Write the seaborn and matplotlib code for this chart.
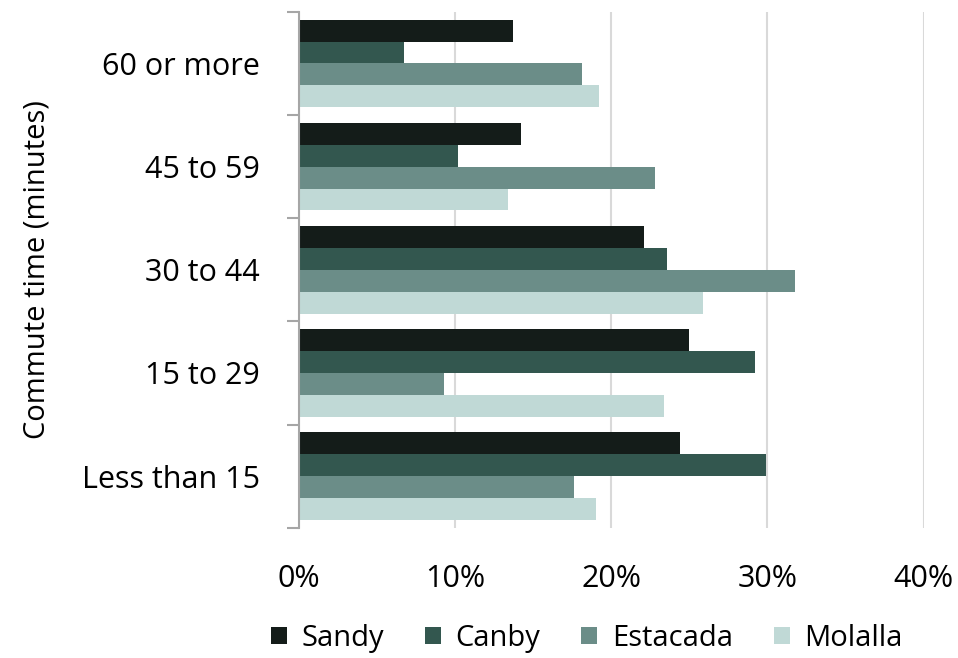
import pandas as pd
import seaborn as sns
import matplotlib.pyplot as plt
from matplotlib.ticker import PercentFormatter, FixedLocator

# Commute time share by city
categories = ['60 or more', '45 to 59', '30 to 44', '15 to 29', 'Less than 15']
cities = ['Sandy', 'Canby', 'Estacada', 'Molalla']
sandy = [13.7, 14.2, 22.1, 25.0, 24.4]
canby = [6.7, 10.2, 23.6, 29.2, 29.9]
estacada = [18.1, 22.8, 31.8, 9.3, 17.6]
molalla = [19.2, 13.4, 25.9, 23.4, 19.0]
colors = ['#141c19', '#33574f', '#6b8d88', '#c0d9d6']

df = pd.DataFrame({'commute': categories, 'Sandy': sandy, 'Canby': canby,
                   'Estacada': estacada, 'Molalla': molalla})
df = df.melt(id_vars='commute', var_name='city', value_name='pct')

sns.set_style('white')
plt.rcParams['font.family'] = ['Open Sans', 'DejaVu Sans']
plt.rcParams['text.color'] = 'black'
plt.rcParams['xtick.color'] = 'black'
plt.rcParams['ytick.color'] = 'black'
plt.rcParams['axes.labelcolor'] = 'black'

fig = plt.figure(figsize=(9.58, 6.58), dpi=100)
ax = fig.add_axes([0.312, 0.198, 0.652, 0.784])

sns.barplot(data=df, y='commute', x='pct', hue='city', order=categories,
            hue_order=cities, palette=colors, orient='h', width=0.85,
            saturation=1, linewidth=0, ax=ax)

ax.set_xlim(0, 40)
ax.set_xticks([0, 10, 20, 30, 40])
ax.xaxis.set_major_formatter(PercentFormatter(decimals=0))
ax.grid(axis='x', color='#d9d9d9', linewidth=1.5)
ax.set_axisbelow(True)

# tick marks between categories, labels at centers
ax.yaxis.set_minor_locator(FixedLocator([i - 0.5 for i in range(len(categories) + 1)]))
ax.tick_params(axis='y', which='major', length=0, labelsize=22, pad=28)
ax.tick_params(axis='y', which='minor', length=9, width=1.5, color='#a6a6a6', left=True)
ax.tick_params(axis='x', length=0, labelsize=22, pad=26)

for s in ['top', 'right', 'bottom']:
    ax.spines[s].set_visible(False)
ax.spines['left'].set_color('#a6a6a6')
ax.spines['left'].set_linewidth(1.5)

ax.set_ylabel('Commute time (minutes)', fontsize=21, labelpad=22)
ax.set_xlabel('')

ax.legend(loc='center', bbox_to_anchor=(0.461, -0.214), ncol=4, frameon=False,
          fontsize=21, handlelength=0.55, handleheight=0.55, columnspacing=1.4,
          handletextpad=0.5)

fig.savefig('out.png')
